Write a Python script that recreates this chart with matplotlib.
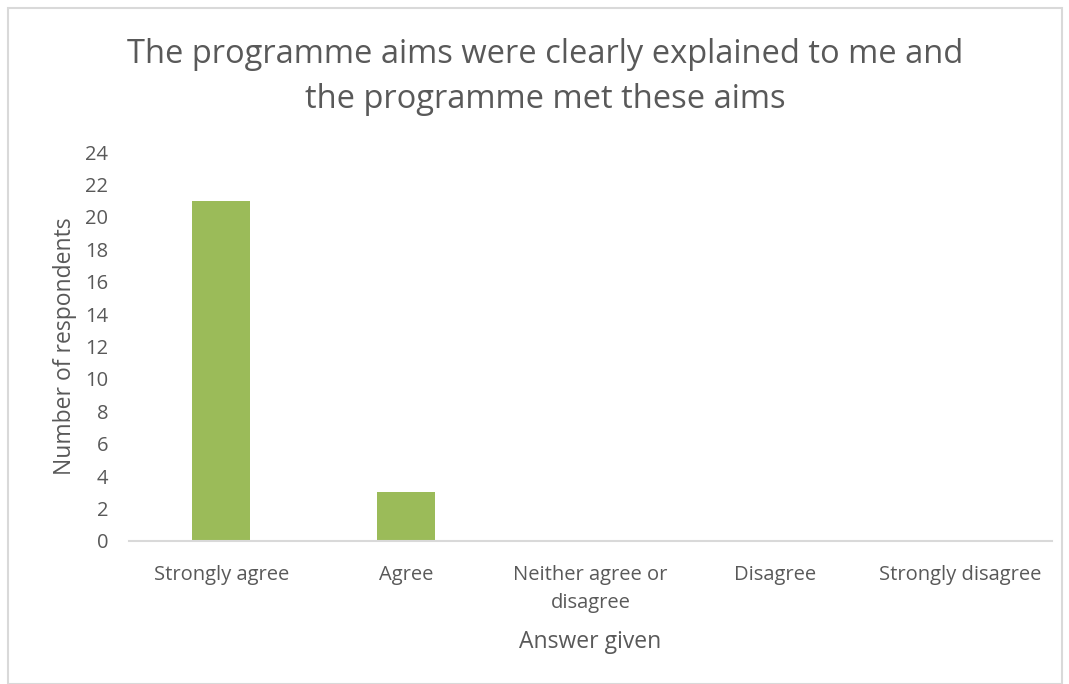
import matplotlib.pyplot as plt
from matplotlib.patches import Rectangle

categories = ["Strongly agree", "Agree", "Neither agree or\ndisagree", "Disagree", "Strongly disagree"]
values = [21, 3, 0, 0, 0]
yticks = list(range(0, 25, 2))

plt.rcParams['font.family'] = ['Open Sans', 'DejaVu Sans']
text_col = '#595959'

fig = plt.figure(figsize=(10.69, 6.84), dpi=100)
fig.patches.append(Rectangle((8/1069, 0), 1054/1069, 1 - 8/684, transform=fig.transFigure,
                             fill=False, edgecolor='#d9d9d9', linewidth=1.5))
ax = fig.add_axes([129/1069, 1 - 541/684, 923/1069, 389/684])

x = range(len(categories))
ax.bar(x, values, width=0.315, color='#9BBB59')
ax.set_xlim(-0.5, len(categories) - 0.5)
ax.set_ylim(0, 24)
ax.set_yticks(yticks)
ax.set_xticks(list(x))
ax.set_xticklabels(categories, linespacing=1.55)
ax.tick_params(axis='both', length=0, labelsize=14.5, colors=text_col)
ax.tick_params(axis='y', pad=15)
ax.tick_params(axis='x', pad=17)
for s in ['top', 'right', 'left']:
    ax.spines[s].set_visible(False)
ax.spines['bottom'].set_color('#d9d9d9')
ax.spines['bottom'].set_linewidth(1.5)

ax.set_xlabel("Answer given", fontsize=16.5, color=text_col, labelpad=12)
ax.set_ylabel("Number of respondents", fontsize=16.5, color=text_col, labelpad=6)

fig.text(545/1069, 1 - 77/684, "The programme aims were clearly explained to me and\nthe programme met these aims",
         ha='center', va='center', fontsize=23.5, color=text_col, linespacing=1.45)

fig.savefig("out.png", dpi=100)
